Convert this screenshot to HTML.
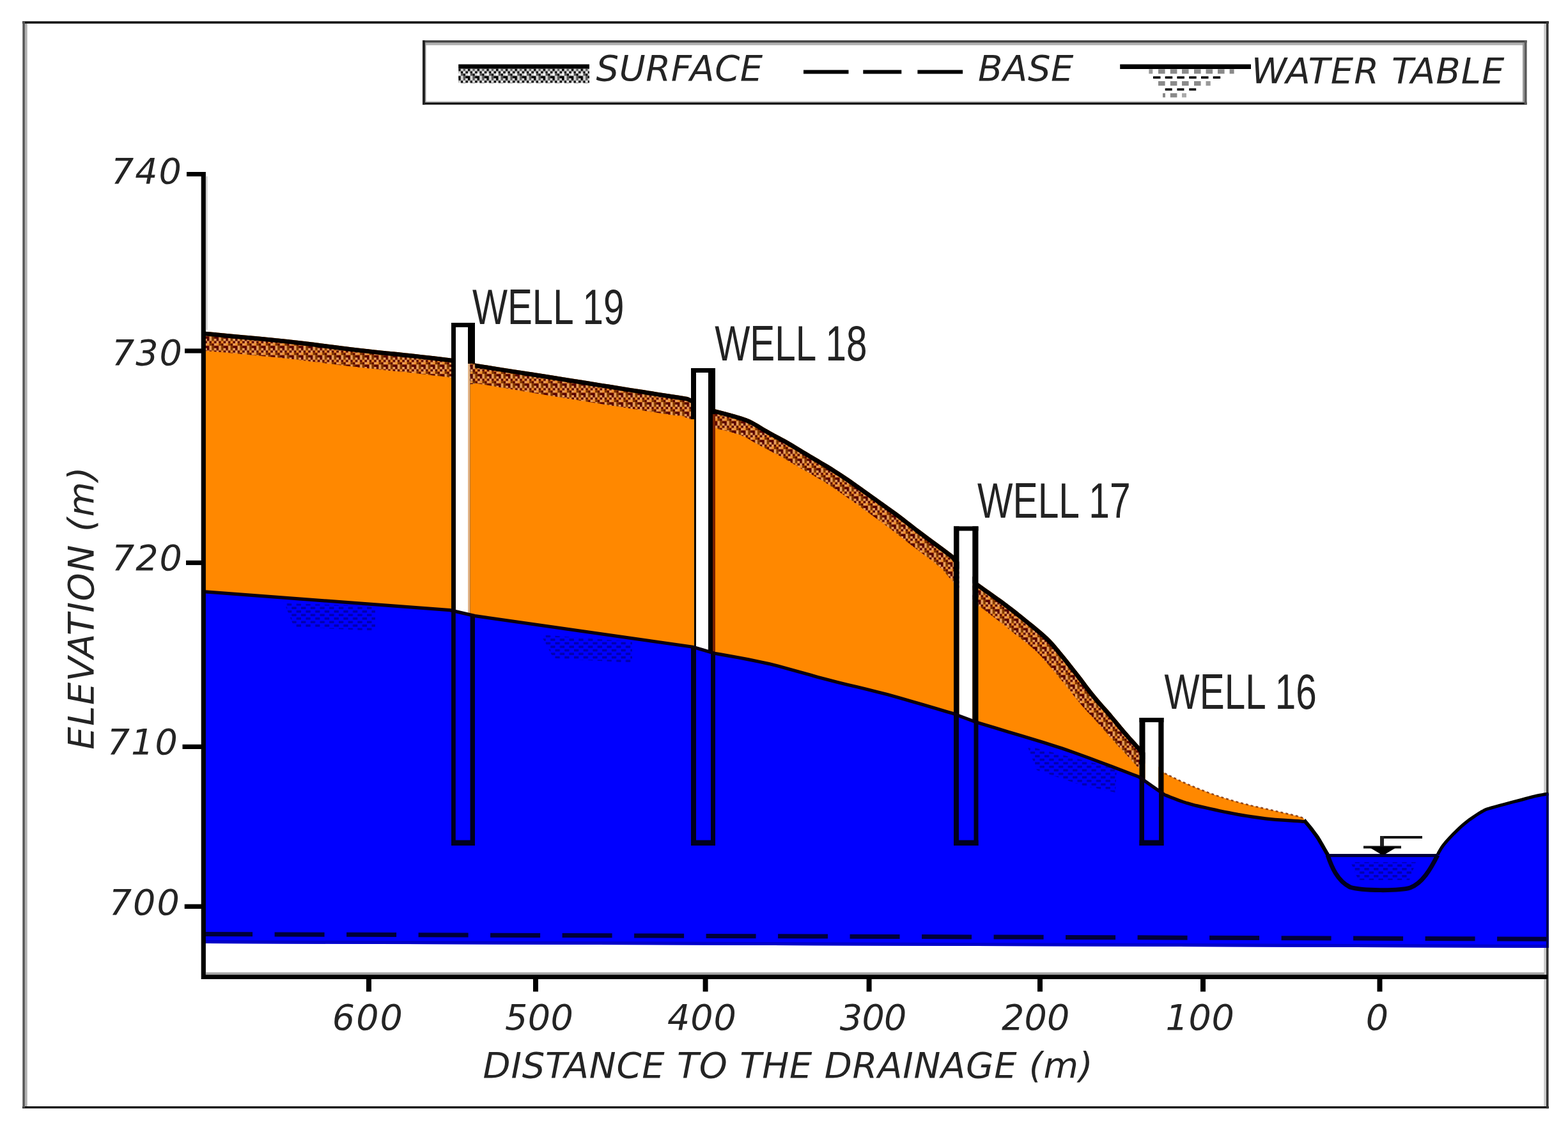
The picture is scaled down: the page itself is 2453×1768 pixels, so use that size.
<!DOCTYPE html><html><head><meta charset="utf-8"><title>Cross-section</title><style>html,body{margin:0;padding:0;background:#fff;}svg{display:block;}</style></head><body><svg width="2453" height="1768" viewBox="0 0 2453 1768">
<defs>
<pattern id="hatch" patternUnits="userSpaceOnUse" x="0" y="0" width="14.72" height="14.72"><rect x="0.00" y="0.00" width="3.72" height="3.72" fill="#560000"/><rect x="3.68" y="0.00" width="3.72" height="3.72" fill="#e8a060"/><rect x="7.36" y="0.00" width="3.72" height="3.72" fill="#7a3400"/><rect x="11.04" y="0.00" width="3.72" height="3.72" fill="#e8a060"/><rect x="0.00" y="3.68" width="3.72" height="3.72" fill="#e8a060"/><rect x="3.68" y="3.68" width="3.72" height="3.72" fill="#560000"/><rect x="7.36" y="3.68" width="3.72" height="3.72" fill="#f09030"/><rect x="11.04" y="3.68" width="3.72" height="3.72" fill="#560000"/><rect x="0.00" y="7.36" width="3.72" height="3.72" fill="#f09030"/><rect x="3.68" y="7.36" width="3.72" height="3.72" fill="#7a3400"/><rect x="7.36" y="7.36" width="3.72" height="3.72" fill="#560000"/><rect x="11.04" y="7.36" width="3.72" height="3.72" fill="#e8a060"/><rect x="0.00" y="11.04" width="3.72" height="3.72" fill="#560000"/><rect x="3.68" y="11.04" width="3.72" height="3.72" fill="#e8a060"/><rect x="7.36" y="11.04" width="3.72" height="3.72" fill="#7a3400"/><rect x="11.04" y="11.04" width="3.72" height="3.72" fill="#560000"/></pattern>
<pattern id="lhatch2" patternUnits="userSpaceOnUse" x="717.2" y="107.7" width="14.72" height="14.72"><rect x="0.00" y="0.00" width="3.72" height="3.72" fill="#000"/><rect x="3.68" y="0.00" width="3.72" height="3.72" fill="#d8d8d8"/><rect x="7.36" y="0.00" width="3.72" height="3.72" fill="#555"/><rect x="11.04" y="0.00" width="3.72" height="3.72" fill="#d8d8d8"/><rect x="0.00" y="3.68" width="3.72" height="3.72" fill="#d8d8d8"/><rect x="3.68" y="3.68" width="3.72" height="3.72" fill="#000"/><rect x="7.36" y="3.68" width="3.72" height="3.72" fill="#fff"/><rect x="11.04" y="3.68" width="3.72" height="3.72" fill="#000"/><rect x="0.00" y="7.36" width="3.72" height="3.72" fill="#fff"/><rect x="3.68" y="7.36" width="3.72" height="3.72" fill="#555"/><rect x="7.36" y="7.36" width="3.72" height="3.72" fill="#000"/><rect x="11.04" y="7.36" width="3.72" height="3.72" fill="#d8d8d8"/><rect x="0.00" y="11.04" width="3.72" height="3.72" fill="#000"/><rect x="3.68" y="11.04" width="3.72" height="3.72" fill="#d8d8d8"/><rect x="7.36" y="11.04" width="3.72" height="3.72" fill="#555"/><rect x="11.04" y="11.04" width="3.72" height="3.72" fill="#000"/></pattern>
<pattern id="lhatch" patternUnits="userSpaceOnUse" width="14.6" height="23" x="717" y="107.7"><rect width="14.6" height="23" fill="#fff"/><path d="M0,3 L4,0 L8,4 L12,0 M0,11 L4,7 L8,11 L12,7 M0,19 L4,15 L8,19 L12,15" fill="none" stroke="#111" stroke-width="3.2"/></pattern>
<pattern id="dots" patternUnits="userSpaceOnUse" width="14.72" height="11.04"><rect x="0" y="0" width="7.36" height="3.68" fill="#00008c"/><rect x="7.36" y="5.52" width="7.36" height="3.68" fill="#00008c"/></pattern>
<clipPath id="clipOrange"><polygon points="318.0,514.0 318.0,518.5 332.6,519.8 353.0,521.7 377.1,523.9 402.7,526.3 427.7,528.7 450.0,531.0 469.9,533.2 489.2,535.6 507.9,538.0 525.9,540.3 543.3,542.5 560.0,544.5 576.0,546.3 591.4,547.9 606.1,549.4 620.1,550.8 633.4,552.2 646.0,553.5 658.2,554.9 670.1,556.2 681.4,557.6 691.4,558.8 699.8,559.8 706.0,560.5 743.0,568.5 758.5,570.9 780.3,574.4 806.0,578.4 832.9,582.6 858.4,586.6 880.0,590.0 897.3,592.7 912.2,595.1 925.8,597.3 939.0,599.4 952.7,601.6 968.0,604.0 986.1,606.9 1006.5,610.1 1027.5,613.4 1047.3,616.5 1064.0,619.1 1076.0,621.0 1118.0,640.0 1123.6,641.5 1131.6,643.6 1140.9,646.0 1150.7,648.7 1160.0,651.5 1168.0,654.3 1174.6,657.1 1180.5,660.2 1185.9,663.3 1191.1,666.5 1196.4,669.7 1201.8,672.8 1207.4,675.9 1213.0,678.9 1218.7,681.9 1224.3,685.0 1229.9,688.1 1235.5,691.3 1241.1,694.6 1246.7,697.9 1252.2,701.3 1257.8,704.7 1263.4,708.1 1269.0,711.5 1274.6,714.8 1280.2,718.1 1285.8,721.4 1291.5,724.7 1297.1,728.1 1302.7,731.6 1308.3,735.2 1313.9,738.8 1319.6,742.6 1325.2,746.3 1330.8,750.1 1336.4,754.0 1342.0,757.9 1347.6,761.9 1353.2,765.9 1358.8,769.9 1364.4,774.0 1370.0,778.0 1375.6,782.0 1381.2,785.9 1386.8,789.9 1392.4,793.9 1398.0,797.9 1403.6,802.0 1409.2,806.2 1414.8,810.6 1420.4,814.9 1426.1,819.3 1431.7,823.7 1437.3,828.0 1443.1,832.3 1449.0,836.8 1455.0,841.2 1460.8,845.4 1466.2,849.4 1471.0,853.0 1475.4,856.3 1479.4,859.3 1483.1,862.1 1486.3,864.5 1489.0,866.5 1491.0,868.0 1529.0,911.0 1534.2,914.7 1541.5,919.9 1550.1,926.0 1559.1,932.4 1567.7,938.6 1575.0,944.0 1580.9,948.5 1586.2,952.5 1591.0,956.2 1595.6,960.0 1600.4,963.8 1605.5,968.0 1611.1,972.6 1617.1,977.3 1623.1,982.2 1629.1,987.2 1634.8,992.2 1640.0,997.0 1644.7,1001.7 1648.9,1006.3 1652.9,1010.9 1656.7,1015.5 1660.5,1020.2 1664.5,1025.0 1668.6,1030.0 1672.6,1035.0 1676.7,1040.2 1680.8,1045.4 1684.8,1050.6 1688.9,1055.8 1693.0,1061.1 1697.1,1066.5 1701.1,1071.9 1705.2,1077.2 1709.3,1082.5 1713.4,1087.6 1717.5,1092.5 1721.6,1097.2 1725.7,1101.9 1729.7,1106.5 1733.8,1111.1 1737.9,1115.8 1742.0,1120.7 1746.2,1125.7 1750.4,1130.8 1754.5,1135.8 1758.5,1140.5 1762.3,1145.0 1766.1,1149.3 1769.9,1153.7 1773.7,1157.8 1777.1,1161.6 1779.9,1164.7 1782.0,1167.0 1822.0,1210.0 1825.8,1211.8 1831.1,1214.4 1837.3,1217.4 1844.1,1220.7 1851.2,1224.0 1858.0,1227.0 1864.8,1229.9 1871.8,1232.8 1879.1,1235.8 1886.4,1238.6 1893.8,1241.4 1901.0,1244.0 1908.2,1246.4 1915.3,1248.7 1922.5,1250.9 1929.7,1253.0 1936.8,1255.1 1944.0,1257.0 1951.2,1258.8 1958.3,1260.6 1965.5,1262.2 1972.7,1263.8 1979.8,1265.4 1987.0,1267.0 1994.5,1268.7 2002.6,1270.6 2010.6,1272.4 2018.1,1274.1 2024.7,1275.7 2030.0,1277.0 2033.7,1278.1 2036.1,1278.9 2037.7,1279.6 2038.6,1280.2 2039.3,1280.6 2040.0,1281.0 2040.0,1285.6 2039.3,1285.5 2038.6,1285.4 2037.7,1285.3 2036.1,1285.1 2033.7,1284.9 2030.0,1284.6 2024.7,1284.3 2018.1,1283.9 2010.6,1283.4 2002.6,1282.9 1994.5,1282.3 1987.0,1281.6 1979.8,1280.8 1972.7,1279.9 1965.5,1278.9 1958.3,1277.9 1951.2,1276.8 1944.0,1275.6 1936.8,1274.4 1929.7,1273.0 1922.6,1271.6 1915.4,1270.2 1908.2,1268.7 1901.0,1267.1 1893.6,1265.5 1886.1,1263.8 1878.5,1262.1 1871.0,1260.4 1863.8,1258.5 1857.0,1256.6 1850.2,1254.4 1843.4,1252.0 1836.8,1249.4 1830.7,1247.1 1825.7,1245.0 1822.0,1243.6 1782.0,1215.6 1771.5,1211.6 1756.6,1205.9 1739.1,1199.3 1720.8,1192.4 1703.5,1185.9 1689.0,1180.6 1677.9,1176.6 1669.0,1173.5 1661.1,1170.8 1653.1,1168.2 1643.7,1165.3 1632.0,1161.6 1616.3,1156.8 1597.3,1151.0 1576.9,1144.9 1557.4,1139.1 1540.7,1134.1 1529.0,1130.6 1491.5,1116.6 1480.1,1113.3 1464.3,1108.6 1445.6,1103.0 1425.6,1097.2 1405.8,1091.5 1388.0,1086.6 1371.9,1082.4 1356.2,1078.5 1340.8,1074.8 1325.5,1071.2 1310.3,1067.5 1295.0,1063.6 1279.5,1059.4 1264.0,1055.1 1248.5,1050.7 1233.1,1046.4 1217.9,1042.3 1203.0,1038.6 1187.4,1035.2 1171.0,1031.9 1154.8,1028.8 1139.8,1026.1 1127.2,1023.9 1118.0,1022.2 1084.0,1012.3 743.0,963.6 704.0,954.6 318.0,925.6 318.0,925.6"/></clipPath>
<clipPath id="clipBlue"><polygon points="318.0,925.0 318.0,925.0 704.0,954.0 743.0,963.0 1084.0,1011.7 1118.0,1021.6 1127.2,1023.3 1139.8,1025.5 1154.8,1028.2 1171.0,1031.3 1187.4,1034.6 1203.0,1038.0 1217.9,1041.7 1233.1,1045.8 1248.5,1050.1 1264.0,1054.5 1279.5,1058.8 1295.0,1063.0 1310.3,1066.9 1325.5,1070.6 1340.8,1074.2 1356.2,1077.9 1371.9,1081.8 1388.0,1086.0 1405.8,1090.9 1425.6,1096.6 1445.6,1102.4 1464.3,1108.0 1480.1,1112.7 1491.5,1116.0 1529.0,1130.0 1540.7,1133.5 1557.4,1138.5 1576.9,1144.3 1597.3,1150.4 1616.3,1156.2 1632.0,1161.0 1643.7,1164.7 1653.1,1167.6 1661.1,1170.2 1669.0,1172.9 1677.9,1176.0 1689.0,1180.0 1703.5,1185.3 1720.8,1191.8 1739.1,1198.7 1756.6,1205.3 1771.5,1211.0 1782.0,1215.0 1822.0,1243.0 1825.7,1244.4 1830.7,1246.5 1836.8,1248.8 1843.4,1251.4 1850.2,1253.8 1857.0,1256.0 1863.8,1257.9 1871.0,1259.8 1878.5,1261.5 1886.1,1263.2 1893.6,1264.9 1901.0,1266.5 1908.2,1268.1 1915.4,1269.6 1922.6,1271.0 1929.7,1272.4 1936.8,1273.8 1944.0,1275.0 1951.2,1276.2 1958.3,1277.3 1965.5,1278.3 1972.7,1279.3 1979.8,1280.2 1987.0,1281.0 1994.5,1281.7 2002.6,1282.3 2010.6,1282.8 2018.1,1283.3 2024.7,1283.7 2030.0,1284.0 2033.7,1284.3 2036.1,1284.5 2037.7,1284.7 2038.6,1284.8 2039.3,1284.9 2040.0,1285.0 2042.1,1285.6 2045.1,1289.2 2048.6,1293.4 2052.3,1298.0 2055.8,1302.7 2059.0,1307.0 2061.9,1311.3 2064.7,1315.9 2067.4,1320.6 2070.0,1325.0 2072.2,1328.9 2074.0,1332.0 2075.3,1334.3 2076.3,1335.9 2076.9,1337.1 2077.4,1337.9 2077.7,1338.4 2078.0,1339.0 2077.0,1339.0 2249.0,1339.0 2249.0,1337.0 2250.1,1335.2 2251.4,1332.7 2253.1,1329.8 2255.1,1326.5 2257.6,1322.8 2260.7,1319.0 2264.5,1314.7 2269.0,1309.8 2274.0,1304.6 2279.3,1299.4 2284.5,1294.4 2289.5,1290.0 2294.4,1286.0 2299.5,1282.1 2304.6,1278.6 2309.5,1275.3 2314.0,1272.4 2318.0,1270.0 2321.0,1268.3 2323.0,1267.2 2324.6,1266.5 2326.4,1265.9 2329.0,1265.2 2333.0,1264.0 2338.7,1262.4 2345.8,1260.4 2353.6,1258.3 2361.7,1256.2 2369.3,1254.2 2376.0,1252.5 2381.7,1251.0 2387.0,1249.5 2391.9,1248.2 2396.5,1247.0 2400.7,1245.9 2404.7,1245.0 2408.5,1244.2 2412.1,1243.6 2415.4,1243.0 2418.4,1242.6 2420.8,1242.3 2422.6,1242.0 2422.6,1483.0 318.0,1476.0"/></clipPath>
</defs>
<rect width="2453" height="1768" fill="#fff"/>
<rect x="35" y="33.3" width="2388" height="3.6" fill="#111"/>
<rect x="35" y="1731" width="2388" height="3.2" fill="#000"/>
<rect x="35.3" y="33.3" width="3.6" height="1700" fill="#555"/>
<rect x="38.9" y="37" width="3.8" height="1694" fill="#b0b0b0"/>
<rect x="2415.3" y="37" width="3.7" height="1694" fill="#c8c8c8"/>
<rect x="2419" y="33.3" width="3.6" height="1701" fill="#333"/>
<rect x="661" y="63.1" width="1727.6" height="3.7" fill="#444"/>
<rect x="664.6" y="66.8" width="1720" height="3.9" fill="#b0b0b0"/>
<rect x="661" y="158.3" width="1727.6" height="2.2" fill="#c0c0c0"/>
<rect x="661" y="160.3" width="1727.6" height="3.4" fill="#111"/>
<rect x="661" y="63.1" width="4" height="100.6" fill="#222"/>
<rect x="665" y="66.8" width="1.5" height="93" fill="#999"/>
<rect x="2382" y="66.8" width="2.7" height="93" fill="#999"/>
<rect x="2384.7" y="63.1" width="3.9" height="100.6" fill="#5a5a5a"/>
<rect x="717.2" y="100.6" width="204.8" height="7.1" fill="#000"/>
<rect x="717.2" y="107.7" width="204.8" height="22.5" fill="url(#lhatch2)"/>
<rect x="1257" y="109.5" width="70.5" height="6" fill="#000"/>
<rect x="1350.3" y="109.5" width="60.0" height="6" fill="#000"/>
<rect x="1435.4" y="109.5" width="70.7" height="6" fill="#000"/>
<rect x="1752.2" y="100.6" width="204.8" height="7.4" fill="#000"/>
<rect x="1812" y="108.3" width="10.6" height="7.1" fill="#8a8a8a"/>
<rect x="1830.8" y="108.3" width="10.6" height="7.1" fill="#8a8a8a"/>
<rect x="1849" y="108.3" width="10.6" height="7.1" fill="#8a8a8a"/>
<rect x="1868" y="108.3" width="10.6" height="7.1" fill="#8a8a8a"/>
<rect x="1886.5" y="108.3" width="10.6" height="7.1" fill="#8a8a8a"/>
<rect x="1905" y="108.3" width="10.6" height="7.1" fill="#8a8a8a"/>
<rect x="1797.3" y="108.3" width="6" height="7.1" fill="#9a9a9a"/>
<rect x="1923.6" y="108.3" width="7" height="7.1" fill="#8a8a8a"/>
<rect x="1804" y="119.4" width="11.5" height="3.6" fill="#000"/>
<rect x="1822.7" y="119.4" width="11.5" height="3.6" fill="#000"/>
<rect x="1841.4" y="119.4" width="11.5" height="3.6" fill="#000"/>
<rect x="1860.2" y="119.4" width="11.5" height="3.6" fill="#000"/>
<rect x="1879" y="119.4" width="11.5" height="3.6" fill="#000"/>
<rect x="1897.7" y="119.4" width="11.5" height="3.6" fill="#000"/>
<rect x="1812" y="127" width="10.6" height="7.1" fill="#8a8a8a"/>
<rect x="1830.8" y="127" width="10.6" height="7.1" fill="#8a8a8a"/>
<rect x="1849" y="127" width="10.6" height="7.1" fill="#8a8a8a"/>
<rect x="1868" y="127" width="10.6" height="7.1" fill="#8a8a8a"/>
<rect x="1886.5" y="127" width="7.2" height="7.1" fill="#999"/>
<rect x="1822.7" y="138.2" width="11" height="3.5" fill="#000"/>
<rect x="1841.4" y="138.2" width="11" height="3.5" fill="#000"/>
<rect x="1860.2" y="138.2" width="11" height="3.5" fill="#000"/>
<rect x="1819" y="145.8" width="4" height="6.6" fill="#888"/>
<rect x="1830.8" y="145.8" width="10.6" height="6.6" fill="#8a8a8a"/>
<rect x="1849" y="145.8" width="7" height="6.6" fill="#aaa"/>
<text x="932.6" y="126.2" font-size="56" letter-spacing="0.57" font-family="DejaVu Sans, Liberation Sans, sans-serif" font-style="italic" fill="#242424">SURFACE</text>
<text x="1530" y="126.2" font-size="56" letter-spacing="0.6" font-family="DejaVu Sans, Liberation Sans, sans-serif" font-style="italic" fill="#242424">BASE</text>
<text x="1957.8" y="129.9" font-size="56" letter-spacing="1.0" font-family="DejaVu Sans, Liberation Sans, sans-serif" font-style="italic" fill="#242424">WATER TABLE</text>
<polygon points="318.0,514.0 318.0,518.5 332.6,519.8 353.0,521.7 377.1,523.9 402.7,526.3 427.7,528.7 450.0,531.0 469.9,533.2 489.2,535.6 507.9,538.0 525.9,540.3 543.3,542.5 560.0,544.5 576.0,546.3 591.4,547.9 606.1,549.4 620.1,550.8 633.4,552.2 646.0,553.5 658.2,554.9 670.1,556.2 681.4,557.6 691.4,558.8 699.8,559.8 706.0,560.5 743.0,568.5 758.5,570.9 780.3,574.4 806.0,578.4 832.9,582.6 858.4,586.6 880.0,590.0 897.3,592.7 912.2,595.1 925.8,597.3 939.0,599.4 952.7,601.6 968.0,604.0 986.1,606.9 1006.5,610.1 1027.5,613.4 1047.3,616.5 1064.0,619.1 1076.0,621.0 1118.0,640.0 1123.6,641.5 1131.6,643.6 1140.9,646.0 1150.7,648.7 1160.0,651.5 1168.0,654.3 1174.6,657.1 1180.5,660.2 1185.9,663.3 1191.1,666.5 1196.4,669.7 1201.8,672.8 1207.4,675.9 1213.0,678.9 1218.7,681.9 1224.3,685.0 1229.9,688.1 1235.5,691.3 1241.1,694.6 1246.7,697.9 1252.2,701.3 1257.8,704.7 1263.4,708.1 1269.0,711.5 1274.6,714.8 1280.2,718.1 1285.8,721.4 1291.5,724.7 1297.1,728.1 1302.7,731.6 1308.3,735.2 1313.9,738.8 1319.6,742.6 1325.2,746.3 1330.8,750.1 1336.4,754.0 1342.0,757.9 1347.6,761.9 1353.2,765.9 1358.8,769.9 1364.4,774.0 1370.0,778.0 1375.6,782.0 1381.2,785.9 1386.8,789.9 1392.4,793.9 1398.0,797.9 1403.6,802.0 1409.2,806.2 1414.8,810.6 1420.4,814.9 1426.1,819.3 1431.7,823.7 1437.3,828.0 1443.1,832.3 1449.0,836.8 1455.0,841.2 1460.8,845.4 1466.2,849.4 1471.0,853.0 1475.4,856.3 1479.4,859.3 1483.1,862.1 1486.3,864.5 1489.0,866.5 1491.0,868.0 1529.0,911.0 1534.2,914.7 1541.5,919.9 1550.1,926.0 1559.1,932.4 1567.7,938.6 1575.0,944.0 1580.9,948.5 1586.2,952.5 1591.0,956.2 1595.6,960.0 1600.4,963.8 1605.5,968.0 1611.1,972.6 1617.1,977.3 1623.1,982.2 1629.1,987.2 1634.8,992.2 1640.0,997.0 1644.7,1001.7 1648.9,1006.3 1652.9,1010.9 1656.7,1015.5 1660.5,1020.2 1664.5,1025.0 1668.6,1030.0 1672.6,1035.0 1676.7,1040.2 1680.8,1045.4 1684.8,1050.6 1688.9,1055.8 1693.0,1061.1 1697.1,1066.5 1701.1,1071.9 1705.2,1077.2 1709.3,1082.5 1713.4,1087.6 1717.5,1092.5 1721.6,1097.2 1725.7,1101.9 1729.7,1106.5 1733.8,1111.1 1737.9,1115.8 1742.0,1120.7 1746.2,1125.7 1750.4,1130.8 1754.5,1135.8 1758.5,1140.5 1762.3,1145.0 1766.1,1149.3 1769.9,1153.7 1773.7,1157.8 1777.1,1161.6 1779.9,1164.7 1782.0,1167.0 1822.0,1210.0 1825.8,1211.8 1831.1,1214.4 1837.3,1217.4 1844.1,1220.7 1851.2,1224.0 1858.0,1227.0 1864.8,1229.9 1871.8,1232.8 1879.1,1235.8 1886.4,1238.6 1893.8,1241.4 1901.0,1244.0 1908.2,1246.4 1915.3,1248.7 1922.5,1250.9 1929.7,1253.0 1936.8,1255.1 1944.0,1257.0 1951.2,1258.8 1958.3,1260.6 1965.5,1262.2 1972.7,1263.8 1979.8,1265.4 1987.0,1267.0 1994.5,1268.7 2002.6,1270.6 2010.6,1272.4 2018.1,1274.1 2024.7,1275.7 2030.0,1277.0 2033.7,1278.1 2036.1,1278.9 2037.7,1279.6 2038.6,1280.2 2039.3,1280.6 2040.0,1281.0 2040.0,1285.6 2039.3,1285.5 2038.6,1285.4 2037.7,1285.3 2036.1,1285.1 2033.7,1284.9 2030.0,1284.6 2024.7,1284.3 2018.1,1283.9 2010.6,1283.4 2002.6,1282.9 1994.5,1282.3 1987.0,1281.6 1979.8,1280.8 1972.7,1279.9 1965.5,1278.9 1958.3,1277.9 1951.2,1276.8 1944.0,1275.6 1936.8,1274.4 1929.7,1273.0 1922.6,1271.6 1915.4,1270.2 1908.2,1268.7 1901.0,1267.1 1893.6,1265.5 1886.1,1263.8 1878.5,1262.1 1871.0,1260.4 1863.8,1258.5 1857.0,1256.6 1850.2,1254.4 1843.4,1252.0 1836.8,1249.4 1830.7,1247.1 1825.7,1245.0 1822.0,1243.6 1782.0,1215.6 1771.5,1211.6 1756.6,1205.9 1739.1,1199.3 1720.8,1192.4 1703.5,1185.9 1689.0,1180.6 1677.9,1176.6 1669.0,1173.5 1661.1,1170.8 1653.1,1168.2 1643.7,1165.3 1632.0,1161.6 1616.3,1156.8 1597.3,1151.0 1576.9,1144.9 1557.4,1139.1 1540.7,1134.1 1529.0,1130.6 1491.5,1116.6 1480.1,1113.3 1464.3,1108.6 1445.6,1103.0 1425.6,1097.2 1405.8,1091.5 1388.0,1086.6 1371.9,1082.4 1356.2,1078.5 1340.8,1074.8 1325.5,1071.2 1310.3,1067.5 1295.0,1063.6 1279.5,1059.4 1264.0,1055.1 1248.5,1050.7 1233.1,1046.4 1217.9,1042.3 1203.0,1038.6 1187.4,1035.2 1171.0,1031.9 1154.8,1028.8 1139.8,1026.1 1127.2,1023.9 1118.0,1022.2 1084.0,1012.3 743.0,963.6 704.0,954.6 318.0,925.6 318.0,925.6" fill="#ff8800"/>
<polygon points="318.0,518.5 332.6,519.8 353.0,521.7 377.1,523.9 402.7,526.3 427.7,528.7 450.0,531.0 469.9,533.2 489.2,535.6 507.9,538.0 525.9,540.3 543.3,542.5 560.0,544.5 576.0,546.3 591.4,547.9 606.1,549.4 620.1,550.8 633.4,552.2 646.0,553.5 658.2,554.9 670.1,556.2 681.4,557.6 691.4,558.8 699.8,559.8 706.0,560.5 743.0,568.5 758.5,570.9 780.3,574.4 806.0,578.4 832.9,582.6 858.4,586.6 880.0,590.0 897.3,592.7 912.2,595.1 925.8,597.3 939.0,599.4 952.7,601.6 968.0,604.0 986.1,606.9 1006.5,610.1 1027.5,613.4 1047.3,616.5 1064.0,619.1 1076.0,621.0 1118.0,640.0 1123.6,641.5 1131.6,643.6 1140.9,646.0 1150.7,648.7 1160.0,651.5 1168.0,654.3 1174.6,657.1 1180.5,660.2 1185.9,663.3 1191.1,666.5 1196.4,669.7 1201.8,672.8 1207.4,675.9 1213.0,678.9 1218.7,681.9 1224.3,685.0 1229.9,688.1 1235.5,691.3 1241.1,694.6 1246.7,697.9 1252.2,701.3 1257.8,704.7 1263.4,708.1 1269.0,711.5 1274.6,714.8 1280.2,718.1 1285.8,721.4 1291.5,724.7 1297.1,728.1 1302.7,731.6 1308.3,735.2 1313.9,738.8 1319.6,742.6 1325.2,746.3 1330.8,750.1 1336.4,754.0 1342.0,757.9 1347.6,761.9 1353.2,765.9 1358.8,769.9 1364.4,774.0 1370.0,778.0 1375.6,782.0 1381.2,785.9 1386.8,789.9 1392.4,793.9 1398.0,797.9 1403.6,802.0 1409.2,806.2 1414.8,810.6 1420.4,814.9 1426.1,819.3 1431.7,823.7 1437.3,828.0 1443.1,832.3 1449.0,836.8 1455.0,841.2 1460.8,845.4 1466.2,849.4 1471.0,853.0 1475.4,856.3 1479.4,859.3 1483.1,862.1 1486.3,864.5 1489.0,866.5 1491.0,868.0 1529.0,911.0 1534.2,914.7 1541.5,919.9 1550.1,926.0 1559.1,932.4 1567.7,938.6 1575.0,944.0 1580.9,948.5 1586.2,952.5 1591.0,956.2 1595.6,960.0 1600.4,963.8 1605.5,968.0 1611.1,972.6 1617.1,977.3 1623.1,982.2 1629.1,987.2 1634.8,992.2 1640.0,997.0 1644.7,1001.7 1648.9,1006.3 1652.9,1010.9 1656.7,1015.5 1660.5,1020.2 1664.5,1025.0 1668.6,1030.0 1672.6,1035.0 1676.7,1040.2 1680.8,1045.4 1684.8,1050.6 1688.9,1055.8 1693.0,1061.1 1697.1,1066.5 1701.1,1071.9 1705.2,1077.2 1709.3,1082.5 1713.4,1087.6 1717.5,1092.5 1721.6,1097.2 1725.7,1101.9 1729.7,1106.5 1733.8,1111.1 1737.9,1115.8 1742.0,1120.7 1746.2,1125.7 1750.4,1130.8 1754.5,1135.8 1758.5,1140.5 1762.3,1145.0 1766.1,1149.3 1769.9,1153.7 1773.7,1157.8 1777.1,1161.6 1779.9,1164.7 1782.0,1167.0 1800.0,1187.0 1782.2,1203.1 1764.2,1183.1 1762.1,1180.8 1759.2,1177.8 1755.7,1174.1 1751.8,1169.9 1747.7,1165.5 1743.6,1161.1 1739.5,1156.5 1735.3,1151.7 1731.1,1146.8 1726.8,1141.9 1722.5,1137.0 1718.4,1132.4 1714.4,1128.0 1710.4,1123.6 1706.2,1119.1 1701.8,1114.4 1697.4,1109.5 1692.9,1104.4 1688.4,1099.0 1684.0,1093.6 1679.7,1088.2 1675.4,1082.8 1671.3,1077.7 1667.2,1072.6 1663.1,1067.5 1658.9,1062.4 1654.7,1057.4 1650.7,1052.5 1646.6,1047.8 1642.5,1043.0 1638.4,1038.3 1634.5,1033.8 1630.9,1029.6 1627.3,1025.6 1623.6,1021.8 1619.7,1018.0 1615.2,1014.0 1610.0,1009.6 1604.4,1005.1 1598.4,1000.4 1592.4,995.7 1586.7,991.2 1581.4,987.1 1576.9,983.3 1572.5,979.6 1567.9,976.0 1563.0,972.0 1557.4,967.7 1550.4,962.4 1542.1,956.1 1533.3,949.6 1524.8,943.4 1517.6,938.1 1508.0,930.4 1470.3,886.6 1472.3,888.7 1469.7,886.6 1466.5,884.2 1462.9,881.4 1458.9,878.3 1454.6,875.0 1449.9,871.4 1444.6,867.3 1438.9,863.0 1433.0,858.5 1426.9,853.9 1421.0,849.4 1415.3,845.0 1409.6,840.5 1403.9,836.1 1398.4,831.7 1393.0,827.5 1387.7,823.4 1382.3,819.4 1376.9,815.5 1371.4,811.6 1365.9,807.6 1360.3,803.6 1354.6,799.5 1349.0,795.4 1343.4,791.3 1337.8,787.3 1332.3,783.3 1326.9,779.4 1321.5,775.6 1316.0,771.8 1310.5,768.0 1305.1,764.3 1299.6,760.7 1294.2,757.1 1288.9,753.6 1283.5,750.3 1278.1,747.2 1272.5,744.0 1266.9,740.8 1261.2,737.6 1255.4,734.2 1249.6,730.9 1243.9,727.5 1238.3,724.2 1232.8,720.9 1227.4,717.8 1222.0,714.7 1216.6,711.8 1211.2,708.9 1205.6,706.0 1200.0,703.0 1194.3,700.1 1188.3,696.9 1182.2,693.5 1176.6,690.2 1171.7,687.3 1167.1,684.7 1162.6,682.5 1157.8,680.6 1151.3,678.4 1142.8,676.0 1133.5,673.6 1124.3,671.4 1116.3,669.5 1106.5,666.6 1064.7,650.1 1059.1,650.6 1042.3,648.1 1022.5,645.0 1001.5,641.7 981.1,638.5 963.0,635.6 947.7,633.2 934.0,631.0 920.8,628.9 907.2,626.7 892.3,624.3 875.0,621.6 853.5,618.0 828.0,613.7 801.2,609.2 775.5,604.9 753.7,601.2 737.1,598.4 700.0,590.0 696.2,589.6 687.8,588.5 677.8,587.4 666.7,586.0 654.8,584.7 642.8,583.3 630.3,582.0 617.1,580.7 603.1,579.3 588.3,577.7 572.8,576.1 556.6,574.3 539.6,572.3 522.1,570.1 504.1,567.7 485.5,565.4 466.4,563.0 446.8,560.8 424.8,558.6 399.9,556.2 374.4,553.8 350.3,551.6 329.9,549.7 315.2,548.4" fill="url(#hatch)" clip-path="url(#clipOrange)"/>
<polygon points="318.0,518.5 332.6,519.8 353.0,521.7 377.1,523.9 402.7,526.3 427.7,528.7 450.0,531.0 469.9,533.2 489.2,535.6 507.9,538.0 525.9,540.3 543.3,542.5 560.0,544.5 576.0,546.3 591.4,547.9 606.1,549.4 620.1,550.8 633.4,552.2 646.0,553.5 658.2,554.9 670.1,556.2 681.4,557.6 691.4,558.8 699.8,559.8 706.0,560.5 743.0,568.5 758.5,570.9 780.3,574.4 806.0,578.4 832.9,582.6 858.4,586.6 880.0,590.0 897.3,592.7 912.2,595.1 925.8,597.3 939.0,599.4 952.7,601.6 968.0,604.0 986.1,606.9 1006.5,610.1 1027.5,613.4 1047.3,616.5 1064.0,619.1 1076.0,621.0 1118.0,640.0 1123.6,641.5 1131.6,643.6 1140.9,646.0 1150.7,648.7 1160.0,651.5 1168.0,654.3 1174.6,657.1 1180.5,660.2 1185.9,663.3 1191.1,666.5 1196.4,669.7 1201.8,672.8 1207.4,675.9 1213.0,678.9 1218.7,681.9 1224.3,685.0 1229.9,688.1 1235.5,691.3 1241.1,694.6 1246.7,697.9 1252.2,701.3 1257.8,704.7 1263.4,708.1 1269.0,711.5 1274.6,714.8 1280.2,718.1 1285.8,721.4 1291.5,724.7 1297.1,728.1 1302.7,731.6 1308.3,735.2 1313.9,738.8 1319.6,742.6 1325.2,746.3 1330.8,750.1 1336.4,754.0 1342.0,757.9 1347.6,761.9 1353.2,765.9 1358.8,769.9 1364.4,774.0 1370.0,778.0 1375.6,782.0 1381.2,785.9 1386.8,789.9 1392.4,793.9 1398.0,797.9 1403.6,802.0 1409.2,806.2 1414.8,810.6 1420.4,814.9 1426.1,819.3 1431.7,823.7 1437.3,828.0 1443.1,832.3 1449.0,836.8 1455.0,841.2 1460.8,845.4 1466.2,849.4 1471.0,853.0 1475.4,856.3 1479.4,859.3 1483.1,862.1 1486.3,864.5 1489.0,866.5 1491.0,868.0 1529.0,911.0 1534.2,914.7 1541.5,919.9 1550.1,926.0 1559.1,932.4 1567.7,938.6 1575.0,944.0 1580.9,948.5 1586.2,952.5 1591.0,956.2 1595.6,960.0 1600.4,963.8 1605.5,968.0 1611.1,972.6 1617.1,977.3 1623.1,982.2 1629.1,987.2 1634.8,992.2 1640.0,997.0 1644.7,1001.7 1648.9,1006.3 1652.9,1010.9 1656.7,1015.5 1660.5,1020.2 1664.5,1025.0 1668.6,1030.0 1672.6,1035.0 1676.7,1040.2 1680.8,1045.4 1684.8,1050.6 1688.9,1055.8 1693.0,1061.1 1697.1,1066.5 1701.1,1071.9 1705.2,1077.2 1709.3,1082.5 1713.4,1087.6 1717.5,1092.5 1721.6,1097.2 1725.7,1101.9 1729.7,1106.5 1733.8,1111.1 1737.9,1115.8 1742.0,1120.7 1746.2,1125.7 1750.4,1130.8 1754.5,1135.8 1758.5,1140.5 1762.3,1145.0 1766.1,1149.3 1769.9,1153.7 1773.7,1157.8 1777.1,1161.6 1779.9,1164.7 1782.0,1167.0 1800.0,1187.0 1794.9,1191.5 1776.9,1171.6 1774.9,1169.3 1772.0,1166.1 1768.6,1162.4 1764.9,1158.2 1761.0,1153.8 1757.1,1149.4 1753.3,1144.9 1749.3,1140.1 1745.2,1135.1 1741.0,1130.1 1736.8,1125.1 1732.7,1120.2 1728.7,1115.6 1724.7,1111.0 1720.6,1106.4 1716.4,1101.7 1712.3,1096.9 1708.1,1091.9 1704.0,1086.7 1699.8,1081.4 1695.7,1076.0 1691.6,1070.6 1687.6,1065.2 1683.5,1060.0 1679.5,1054.8 1675.4,1049.5 1671.4,1044.4 1667.3,1039.3 1663.3,1034.2 1659.2,1029.3 1655.3,1024.5 1651.5,1019.8 1647.7,1015.3 1643.8,1010.8 1639.8,1006.4 1635.3,1001.9 1630.2,997.2 1624.7,992.4 1618.8,987.5 1612.8,982.6 1606.9,977.8 1601.2,973.3 1596.1,969.1 1591.3,965.3 1586.7,961.6 1582.0,957.9 1576.8,953.9 1570.9,949.5 1563.7,944.1 1555.1,938.0 1546.1,931.5 1537.6,925.4 1530.2,920.2 1524.0,915.6 1485.9,872.5 1484.9,871.9 1482.2,869.9 1479.0,867.5 1475.3,864.7 1471.3,861.7 1466.9,858.5 1462.1,854.9 1456.7,850.9 1451.0,846.7 1445.0,842.2 1439.0,837.8 1433.2,833.4 1427.5,829.1 1421.9,824.7 1416.3,820.3 1410.7,815.9 1405.1,811.6 1399.5,807.5 1394.0,803.4 1388.4,799.4 1382.9,795.4 1377.3,791.5 1371.7,787.5 1366.0,783.5 1360.4,779.5 1354.8,775.5 1349.2,771.4 1343.7,767.4 1338.1,763.5 1332.5,759.6 1327.0,755.8 1321.4,752.0 1315.8,748.2 1310.2,744.5 1304.6,740.9 1299.1,737.4 1293.5,733.9 1288.0,730.6 1282.4,727.3 1276.8,724.0 1271.1,720.7 1265.5,717.3 1259.9,713.9 1254.3,710.5 1248.7,707.1 1243.2,703.7 1237.6,700.4 1232.1,697.2 1226.6,694.0 1221.0,691.0 1215.4,687.9 1209.8,684.9 1204.2,681.8 1198.5,678.7 1192.9,675.5 1187.6,672.3 1182.5,669.1 1177.2,666.1 1171.7,663.3 1165.5,660.6 1157.9,658.0 1148.8,655.2 1139.1,652.6 1129.9,650.1 1121.9,648.1 1115.3,646.2 1073.5,627.3 1063.0,625.8 1046.2,623.2 1026.4,620.1 1005.5,616.8 985.0,613.6 966.9,610.7 951.7,608.3 937.9,606.1 924.7,604.0 911.2,601.8 896.2,599.4 878.9,596.7 857.4,593.3 831.8,589.3 804.9,585.1 779.3,581.1 757.4,577.6 741.7,575.2 704.7,567.2 699.0,566.5 690.6,565.5 680.6,564.3 669.4,563.0 657.4,561.6 645.3,560.3 632.7,558.9 619.5,557.6 605.4,556.2 590.7,554.7 575.3,553.0 559.2,551.3 542.5,549.2 525.1,547.0 507.0,544.7 488.3,542.3 469.1,540.0 449.3,537.8 427.1,535.5 402.1,533.1 376.5,530.7 352.4,528.5 332.0,526.6 317.4,525.3" fill="#050000"/>
<path d="M1822.0,1210.0 L1825.8,1211.8 L1831.1,1214.4 L1837.3,1217.4 L1844.1,1220.7 L1851.2,1224.0 L1858.0,1227.0 L1864.8,1229.9 L1871.8,1232.8 L1879.1,1235.8 L1886.4,1238.6 L1893.8,1241.4 L1901.0,1244.0 L1908.2,1246.4 L1915.3,1248.7 L1922.5,1250.9 L1929.7,1253.0 L1936.8,1255.1 L1944.0,1257.0 L1951.2,1258.8 L1958.3,1260.6 L1965.5,1262.2 L1972.7,1263.8 L1979.8,1265.4 L1987.0,1267.0 L1994.5,1268.7 L2002.6,1270.6 L2010.6,1272.4 L2018.1,1274.1 L2024.7,1275.7 L2030.0,1277.0 L2033.7,1278.1 L2036.1,1278.9 L2037.7,1279.6 L2038.6,1280.2 L2039.3,1280.6 L2040.0,1281.0" fill="none" stroke="#7a2a00" stroke-width="2.5" stroke-dasharray="4 4" opacity="0.8"/>
<rect x="713" y="505" width="19.0" height="818" fill="#fff"/>
<rect x="706" y="505" width="37.0" height="7" fill="#000"/>
<rect x="706" y="505" width="7.0" height="818" fill="#000"/>
<rect x="732" y="505" width="11.0" height="818" fill="#000"/>
<rect x="1089" y="576" width="19.0" height="747" fill="#fff"/>
<rect x="1081" y="576" width="38.0" height="7" fill="#000"/>
<rect x="1081" y="576" width="8.0" height="747" fill="#000"/>
<rect x="1108" y="576" width="11.0" height="747" fill="#000"/>
<rect x="1500.5" y="823.5" width="20.8" height="499.5" fill="#fff"/>
<rect x="1492" y="823.5" width="38.5" height="7" fill="#000"/>
<rect x="1492" y="823.5" width="8.5" height="499.5" fill="#000"/>
<rect x="1521.3" y="823.5" width="9.2" height="499.5" fill="#000"/>
<rect x="1791.5" y="1123" width="20.8" height="200" fill="#fff"/>
<rect x="1782.5" y="1123" width="38.0" height="7" fill="#000"/>
<rect x="1782.5" y="1123" width="9.0" height="200" fill="#000"/>
<rect x="1812.3" y="1123" width="8.2" height="200" fill="#000"/>
<rect x="732" y="569" width="3.6" height="400" fill="#e2b487" clip-path="url(#clipOrange)"/>
<rect x="735.6" y="569" width="7.6" height="33" fill="url(#hatch)" clip-path="url(#clipOrange)"/>
<rect x="735.6" y="601" width="7.6" height="380" fill="#ff8800" clip-path="url(#clipOrange)"/>
<rect x="1080" y="656" width="6" height="380" fill="#ff8800" clip-path="url(#clipOrange)"/>
<rect x="1115" y="648" width="4" height="400" fill="#782000" clip-path="url(#clipOrange)"/>
<polygon points="318.0,925.0 318.0,925.0 704.0,954.0 743.0,963.0 1084.0,1011.7 1118.0,1021.6 1127.2,1023.3 1139.8,1025.5 1154.8,1028.2 1171.0,1031.3 1187.4,1034.6 1203.0,1038.0 1217.9,1041.7 1233.1,1045.8 1248.5,1050.1 1264.0,1054.5 1279.5,1058.8 1295.0,1063.0 1310.3,1066.9 1325.5,1070.6 1340.8,1074.2 1356.2,1077.9 1371.9,1081.8 1388.0,1086.0 1405.8,1090.9 1425.6,1096.6 1445.6,1102.4 1464.3,1108.0 1480.1,1112.7 1491.5,1116.0 1529.0,1130.0 1540.7,1133.5 1557.4,1138.5 1576.9,1144.3 1597.3,1150.4 1616.3,1156.2 1632.0,1161.0 1643.7,1164.7 1653.1,1167.6 1661.1,1170.2 1669.0,1172.9 1677.9,1176.0 1689.0,1180.0 1703.5,1185.3 1720.8,1191.8 1739.1,1198.7 1756.6,1205.3 1771.5,1211.0 1782.0,1215.0 1822.0,1243.0 1825.7,1244.4 1830.7,1246.5 1836.8,1248.8 1843.4,1251.4 1850.2,1253.8 1857.0,1256.0 1863.8,1257.9 1871.0,1259.8 1878.5,1261.5 1886.1,1263.2 1893.6,1264.9 1901.0,1266.5 1908.2,1268.1 1915.4,1269.6 1922.6,1271.0 1929.7,1272.4 1936.8,1273.8 1944.0,1275.0 1951.2,1276.2 1958.3,1277.3 1965.5,1278.3 1972.7,1279.3 1979.8,1280.2 1987.0,1281.0 1994.5,1281.7 2002.6,1282.3 2010.6,1282.8 2018.1,1283.3 2024.7,1283.7 2030.0,1284.0 2033.7,1284.3 2036.1,1284.5 2037.7,1284.7 2038.6,1284.8 2039.3,1284.9 2040.0,1285.0 2042.1,1285.6 2045.1,1289.2 2048.6,1293.4 2052.3,1298.0 2055.8,1302.7 2059.0,1307.0 2061.9,1311.3 2064.7,1315.9 2067.4,1320.6 2070.0,1325.0 2072.2,1328.9 2074.0,1332.0 2075.3,1334.3 2076.3,1335.9 2076.9,1337.1 2077.4,1337.9 2077.7,1338.4 2078.0,1339.0 2077.0,1339.0 2249.0,1339.0 2249.0,1337.0 2250.1,1335.2 2251.4,1332.7 2253.1,1329.8 2255.1,1326.5 2257.6,1322.8 2260.7,1319.0 2264.5,1314.7 2269.0,1309.8 2274.0,1304.6 2279.3,1299.4 2284.5,1294.4 2289.5,1290.0 2294.4,1286.0 2299.5,1282.1 2304.6,1278.6 2309.5,1275.3 2314.0,1272.4 2318.0,1270.0 2321.0,1268.3 2323.0,1267.2 2324.6,1266.5 2326.4,1265.9 2329.0,1265.2 2333.0,1264.0 2338.7,1262.4 2345.8,1260.4 2353.6,1258.3 2361.7,1256.2 2369.3,1254.2 2376.0,1252.5 2381.7,1251.0 2387.0,1249.5 2391.9,1248.2 2396.5,1247.0 2400.7,1245.9 2404.7,1245.0 2408.5,1244.2 2412.1,1243.6 2415.4,1243.0 2418.4,1242.6 2420.8,1242.3 2422.6,1242.0 2422.6,1483.0 318.0,1476.0" fill="#0000ff"/>
<path d="M322,1473.5 L2419,1480.5" stroke="#0000c8" stroke-width="5"/>
<polygon points="445.0,944.0 587.0,948.0 587.0,987.0 460.0,981.0" fill="url(#dots)" opacity="0.7" clip-path="url(#clipBlue)"/>
<polygon points="846.0,993.0 989.0,1004.0 989.0,1037.0 866.0,1030.0" fill="url(#dots)" opacity="0.7" clip-path="url(#clipBlue)"/>
<polygon points="1607.0,1167.0 1747.0,1203.0 1745.0,1240.0 1690.0,1228.0 1622.0,1205.0" fill="url(#dots)" opacity="0.7" clip-path="url(#clipBlue)"/>
<polygon points="2113.0,1349.0 2215.0,1349.0 2205.0,1377.0 2125.0,1377.0" fill="url(#dots)" opacity="0.7" clip-path="url(#clipBlue)"/>
<g clip-path="url(#clipBlue)" fill="#00001c"><rect x="706" y="505" width="6.8" height="818"/><rect x="735.6" y="505" width="7.4" height="818"/><rect x="706" y="1314.5" width="37.0" height="8.5"/></g>
<g clip-path="url(#clipBlue)" fill="#00001c"><rect x="1081" y="576" width="8.0" height="747"/><rect x="1112" y="576" width="7.0" height="747"/><rect x="1081" y="1314.5" width="38.0" height="8.5"/></g>
<g clip-path="url(#clipBlue)" fill="#00001c"><rect x="1492" y="823.5" width="8.0" height="499.5"/><rect x="1523.5" y="823.5" width="7.0" height="499.5"/><rect x="1492" y="1314.5" width="38.5" height="8.5"/></g>
<g clip-path="url(#clipBlue)" fill="#00001c"><rect x="1782.5" y="1123" width="7.5" height="200"/><rect x="1813" y="1123" width="7.5" height="200"/><rect x="1782.5" y="1314.5" width="38.0" height="8.5"/></g>
<path d="M318.0,925.6 L704.0,954.6 L743.0,963.6 L1084.0,1012.3 L1118.0,1022.2 L1127.2,1023.9 L1139.8,1026.1 L1154.8,1028.8 L1171.0,1031.9 L1187.4,1035.2 L1203.0,1038.6 L1217.9,1042.3 L1233.1,1046.4 L1248.5,1050.7 L1264.0,1055.1 L1279.5,1059.4 L1295.0,1063.6 L1310.3,1067.5 L1325.5,1071.2 L1340.8,1074.8 L1356.2,1078.5 L1371.9,1082.4 L1388.0,1086.6 L1405.8,1091.5 L1425.6,1097.2 L1445.6,1103.0 L1464.3,1108.6 L1480.1,1113.3 L1491.5,1116.6 L1529.0,1130.6 L1540.7,1134.1 L1557.4,1139.1 L1576.9,1144.9 L1597.3,1151.0 L1616.3,1156.8 L1632.0,1161.6 L1643.7,1165.3 L1653.1,1168.2 L1661.1,1170.8 L1669.0,1173.5 L1677.9,1176.6 L1689.0,1180.6 L1703.5,1185.9 L1720.8,1192.4 L1739.1,1199.3 L1756.6,1205.9 L1771.5,1211.6 L1782.0,1215.6 L1822.0,1243.6 L1825.7,1245.0 L1830.7,1247.1 L1836.8,1249.4 L1843.4,1252.0 L1850.2,1254.4 L1857.0,1256.6 L1863.8,1258.5 L1871.0,1260.4 L1878.5,1262.1 L1886.1,1263.8 L1893.6,1265.5 L1901.0,1267.1 L1908.2,1268.7 L1915.4,1270.2 L1922.6,1271.6 L1929.7,1273.0 L1936.8,1274.4 L1944.0,1275.6 L1951.2,1276.8 L1958.3,1277.9 L1965.5,1278.9 L1972.7,1279.9 L1979.8,1280.8 L1987.0,1281.6 L1994.5,1282.3 L2002.6,1282.9 L2010.6,1283.4 L2018.1,1283.9 L2024.7,1284.3 L2030.0,1284.6 L2033.7,1284.9 L2036.1,1285.1 L2037.7,1285.3 L2038.6,1285.4 L2039.3,1285.5 L2040.0,1285.6" fill="none" stroke="#0a0010" stroke-width="5.2" stroke-linejoin="round"/>
<path d="M2040.0,1283.0 L2042.1,1285.6 L2045.1,1289.2 L2048.6,1293.4 L2052.3,1298.0 L2055.8,1302.7 L2059.0,1307.0 L2061.9,1311.3 L2064.7,1315.9 L2067.4,1320.6 L2070.0,1325.0 L2072.2,1328.9 L2074.0,1332.0 L2075.3,1334.3 L2076.3,1335.9 L2076.9,1337.1 L2077.4,1337.9 L2077.7,1338.4 L2078.0,1339.0" fill="none" stroke="#000" stroke-width="6" stroke-linejoin="round"/>
<path d="M2249.0,1337.0 L2250.1,1335.2 L2251.4,1332.7 L2253.1,1329.8 L2255.1,1326.5 L2257.6,1322.8 L2260.7,1319.0 L2264.5,1314.7 L2269.0,1309.8 L2274.0,1304.6 L2279.3,1299.4 L2284.5,1294.4 L2289.5,1290.0 L2294.4,1286.0 L2299.5,1282.1 L2304.6,1278.6 L2309.5,1275.3 L2314.0,1272.4 L2318.0,1270.0 L2321.0,1268.3 L2323.0,1267.2 L2324.6,1266.5 L2326.4,1265.9 L2329.0,1265.2 L2333.0,1264.0 L2338.7,1262.4 L2345.8,1260.4 L2353.6,1258.3 L2361.7,1256.2 L2369.3,1254.2 L2376.0,1252.5 L2381.7,1251.0 L2387.0,1249.5 L2391.9,1248.2 L2396.5,1247.0 L2400.7,1245.9 L2404.7,1245.0 L2408.5,1244.2 L2412.1,1243.6 L2415.4,1243.0 L2418.4,1242.6 L2420.8,1242.3 L2422.6,1242.0" fill="none" stroke="#000" stroke-width="5" stroke-linejoin="round"/>
<path d="M2077,1338.5 L2249,1338.5" stroke="#00003a" stroke-width="5"/>
<path d="M2077,1338 C2083,1356 2092,1378 2112,1388 C2130,1394 2190,1394 2206,1389 C2225,1382 2238,1360 2249,1338" fill="none" stroke="#000020" stroke-width="7"/>
<rect x="2162" y="1308" width="63" height="4" fill="#111"/>
<rect x="2159" y="1308" width="6" height="28" fill="#222"/>
<rect x="2133" y="1323.5" width="59" height="4" fill="#111"/>
<polygon points="2141,1325 2186,1325 2166,1337 2161,1337" fill="#000"/>
<rect x="2419" y="1241" width="3.6" height="242" fill="#000048"/>
<path d="M317.1,1461.5 L2419,1469.2" stroke="#00003a" stroke-width="7" stroke-dasharray="78 34.5"/>
<path d="M292,272.5 H318.3 V1528.5 H2421" fill="none" stroke="#000" stroke-width="7.2" stroke-linejoin="miter"/>
<rect x="321.9" y="1521.4" width="2094" height="3.4" fill="#a0a0a0"/>
<rect x="321.9" y="276" width="2.8" height="240" fill="#d0d0d0"/>
<path d="M289,549 H318" stroke="#000" stroke-width="7.2"/>
<path d="M291,880.5 H318" stroke="#000" stroke-width="7.2"/>
<path d="M285.5,1168.4 H318" stroke="#000" stroke-width="7.2"/>
<path d="M288.7,1418.3 H318" stroke="#000" stroke-width="7.2"/>
<path d="M577,1528 V1551.5" stroke="#000" stroke-width="8"/>
<path d="M838,1528 V1551.5" stroke="#000" stroke-width="8"/>
<path d="M1103.6,1528 V1551.5" stroke="#000" stroke-width="8"/>
<path d="M1359.6,1528 V1551.5" stroke="#000" stroke-width="8"/>
<path d="M1627,1528 V1551.5" stroke="#000" stroke-width="8"/>
<path d="M1882,1528 V1551.5" stroke="#000" stroke-width="8"/>
<path d="M2158.5,1528 V1551.5" stroke="#000" stroke-width="8"/>
<text x="174" y="286.8" letter-spacing="2" font-family="DejaVu Sans, sans-serif" font-style="italic" fill="#242424" font-size="55.5">740</text>
<text x="175" y="570.8" letter-spacing="2" font-family="DejaVu Sans, sans-serif" font-style="italic" fill="#242424" font-size="55.5">730</text>
<text x="175" y="892.2" letter-spacing="2" font-family="DejaVu Sans, sans-serif" font-style="italic" fill="#242424" font-size="55.5">720</text>
<text x="167.8" y="1180" letter-spacing="2" font-family="DejaVu Sans, sans-serif" font-style="italic" fill="#242424" font-size="55.5">710</text>
<text x="170.8" y="1430.9" letter-spacing="2" font-family="DejaVu Sans, sans-serif" font-style="italic" fill="#242424" font-size="55.5">700</text>
<text x="519.8" y="1610.5" letter-spacing="2.1" font-family="DejaVu Sans, sans-serif" font-style="italic" fill="#242424" font-size="55.5">600</text>
<text x="790" y="1610.5" letter-spacing="0.5" font-family="DejaVu Sans, sans-serif" font-style="italic" fill="#242424" font-size="55.5">500</text>
<text x="1044" y="1610.5" letter-spacing="1" font-family="DejaVu Sans, sans-serif" font-style="italic" fill="#242424" font-size="55.5">400</text>
<text x="1313.7" y="1610.5" letter-spacing="-0.6" font-family="DejaVu Sans, sans-serif" font-style="italic" fill="#242424" font-size="55.5">300</text>
<text x="1567" y="1610.5" letter-spacing="0.2" font-family="DejaVu Sans, sans-serif" font-style="italic" fill="#242424" font-size="55.5">200</text>
<text x="1823.5" y="1610.5" letter-spacing="0.75" font-family="DejaVu Sans, sans-serif" font-style="italic" fill="#242424" font-size="55.5">100</text>
<text x="2136.8" y="1610.5" letter-spacing="0" font-family="DejaVu Sans, sans-serif" font-style="italic" fill="#242424" font-size="55.5">0</text>
<text x="755.6" y="1686" font-family="DejaVu Sans, Liberation Sans, sans-serif" font-style="italic" fill="#242424" font-size="56" letter-spacing="0.733">DISTANCE TO THE DRAINAGE (m)</text>
<text transform="translate(146,1172.8) rotate(-90)" x="0" y="0" font-family="DejaVu Sans, Liberation Sans, sans-serif" font-style="italic" fill="#242424" font-size="56" letter-spacing="1.56">ELEVATION (m)</text>
<text x="738.9" y="507.2" font-family="Liberation Sans, Arial, sans-serif" fill="#222" font-size="78" textLength="237.5" lengthAdjust="spacingAndGlyphs">WELL 19</text>
<text x="1118.1999999999998" y="563.7" font-family="Liberation Sans, Arial, sans-serif" fill="#222" font-size="78" textLength="238.2" lengthAdjust="spacingAndGlyphs">WELL 18</text>
<text x="1529.0" y="810.0" font-family="Liberation Sans, Arial, sans-serif" fill="#222" font-size="78" textLength="239.6" lengthAdjust="spacingAndGlyphs">WELL 17</text>
<text x="1821.6" y="1109.3" font-family="Liberation Sans, Arial, sans-serif" fill="#222" font-size="78" textLength="238.3" lengthAdjust="spacingAndGlyphs">WELL 16</text>
</svg></body></html>
